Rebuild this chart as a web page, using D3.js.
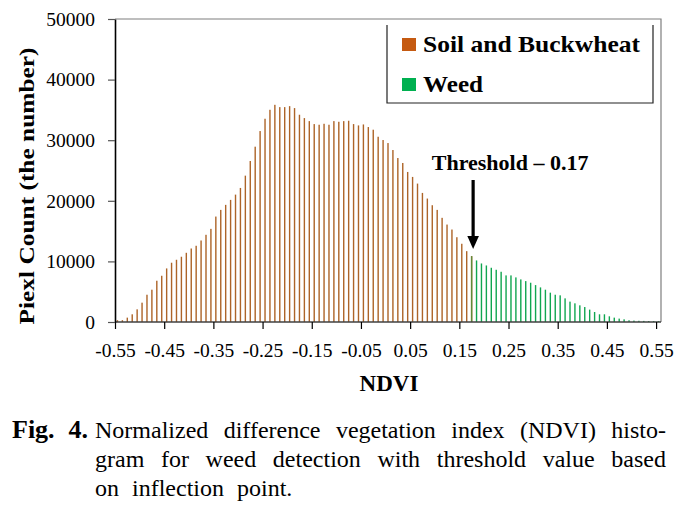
<!DOCTYPE html>
<html>
<head>
<meta charset="utf-8">
<script src="https://cdn.jsdelivr.net/npm/d3@7"></script>
<style>
  html, body { margin: 0; padding: 0; background: #fff; }
  svg { display: block; }
  text { font-family: "Liberation Serif", "Times New Roman", serif; fill: #000; }
</style>
</head>
<body>
<svg id="chart" width="699" height="512"></svg>
<script>
// ---------------- DATA ----------------
const categories = [
  "-0.55","-0.54","-0.53","-0.52","-0.51","-0.50","-0.49","-0.48","-0.47","-0.46",
  "-0.45","-0.44","-0.43","-0.42","-0.41","-0.40","-0.39","-0.38","-0.37","-0.36",
  "-0.35","-0.34","-0.33","-0.32","-0.31","-0.30","-0.29","-0.28","-0.27","-0.26",
  "-0.25","-0.24","-0.23","-0.22","-0.21","-0.20","-0.19","-0.18","-0.17","-0.16",
  "-0.15","-0.14","-0.13","-0.12","-0.11","-0.10","-0.09","-0.08","-0.07","-0.06",
  "-0.05","-0.04","-0.03","-0.02","-0.01","0.00","0.01","0.02","0.03","0.04",
  "0.05","0.06","0.07","0.08","0.09","0.10","0.11","0.12","0.13","0.14",
  "0.15","0.16","0.17","0.18","0.19","0.20","0.21","0.22","0.23","0.24",
  "0.25","0.26","0.27","0.28","0.29","0.30","0.31","0.32","0.33","0.34",
  "0.35","0.36","0.37","0.38","0.39","0.40","0.41","0.42","0.43","0.44",
  "0.45","0.46","0.47","0.48","0.49","0.50","0.51","0.52","0.53","0.54","0.55"
];

// Soil and Buckwheat: -0.55 .. 0.17
const soilValues = [
  300, 300, 720, 1270, 2090, 3190, 4500, 5330, 6810, 7630,
  8840, 9780, 10270, 10770, 11420, 12130, 12580, 13450, 14390, 15370,
  17400, 18500, 19330, 20150, 21020, 22120, 24150, 26570, 28930, 31510,
  33540, 35020, 35840, 35460, 35460, 35620, 35300, 34200, 33650, 33150,
  32660, 32550, 32710, 32550, 33150, 33040, 33150, 33210, 32660, 32440,
  32600, 32170, 31730, 30570, 30030, 29530, 28380, 27060, 26240, 24760,
  23940, 22840, 21300, 20370, 19270, 18500, 17190, 16080, 15260, 13990,
  12910, 11690, 10870
];
const soilStart = "-0.55";

// Weed: 0.17 .. 0.55
const weedValues = [
  10870, 10160, 9660, 9330, 8950, 8620, 8290, 7690, 7690, 7360,
  7030, 6750, 6480, 6090, 5710, 5330, 4840, 4500, 4400, 3900,
  3360, 3080, 2750, 2470, 2040, 1650, 1270, 1270, 940, 720,
  560, 440, 280, 230, 200, 180, 160, 150, 150
];
const weedStart = "0.17";

const xTickLabels = ["-0.55","-0.45","-0.35","-0.25","-0.15","-0.05","0.05","0.15","0.25","0.35","0.45","0.55"];
const yTickValues = [0, 10000, 20000, 30000, 40000, 50000];

const seriesNames = ["Soil and Buckwheat", "Weed"];
const thresholdLabel = "Threshold \u2013 0.17";
const thresholdCategory = "0.17";
const xTitle = "NDVI";
const yTitle = "Piexl Count (the number)";
const captionBold = ["Fig.", "4."];
const captionLines = [
  "Normalized difference vegetation index (NDVI) histo-",
  "gram for weed detection with threshold value based",
  "on inflection point."
];

// ---------------- LAYOUT ----------------
const L = 115, R = 661, T = 19, B = 322;
const step = (R - L) / categories.length;
const svg = d3.select("#chart");

const x = d3.scalePoint().domain(categories).range([L, L + step * (categories.length - 1)]);
const y = d3.scaleLinear().domain([0, 50000]).range([B, T]);

const soilColor = "#ad6428", weedColor = "#10a650", overlapColor = "#5f8a3a";
const legendSoil = "#c55a11", legendWeed = "#00b050";

// plot border (top & right)
svg.append("path")
  .attr("d", `M${L},${T}H${R}V${B}`)
  .attr("fill", "none").attr("stroke", "#7f7f7f").attr("stroke-width", 1.2);

// bars
const soilData = soilValues.map((v, i) => ({ c: categories[categories.indexOf(soilStart) + i], v }));
const weedData = weedValues.map((v, i) => ({ c: categories[categories.indexOf(weedStart) + i], v }));
const soilSet = new Set(soilData.map(d => d.c));
const barW = 1.4;

svg.append("g").selectAll("rect").data(soilData).join("rect")
  .attr("x", d => x(d.c) + step / 2 - barW / 2)
  .attr("y", d => y(d.v))
  .attr("width", barW)
  .attr("height", d => y(0) - y(d.v))
  .attr("fill", soilColor);

svg.append("g").selectAll("rect").data(weedData).join("rect")
  .attr("x", d => x(d.c) + step / 2 - barW / 2)
  .attr("y", d => y(d.v))
  .attr("width", barW)
  .attr("height", d => y(0) - y(d.v))
  .attr("fill", d => soilSet.has(d.c) ? overlapColor : weedColor);

// x axis
const xAxis = d3.axisBottom(x).tickValues(xTickLabels).tickSize(7).tickPadding(14).tickSizeOuter(0);
const gx = svg.append("g").attr("transform", `translate(0,${B})`).call(xAxis);
gx.attr("font-family", null);
gx.select(".domain").attr("d", `M${L},0H${R}`).attr("stroke", "#404040").attr("stroke-width", 1.6);
gx.selectAll(".tick line").attr("stroke", "#000").attr("stroke-width", 1.2);
gx.selectAll(".tick text").attr("font-size", 19.5).style("font-family", "'Liberation Serif', serif").attr("fill", "#000");

// y axis
const yAxis = d3.axisLeft(y).tickValues(yTickValues).tickFormat(d3.format("d")).tickSize(7).tickPadding(13).tickSizeOuter(0);
const gy = svg.append("g").attr("transform", `translate(${L},0)`).call(yAxis);
gy.attr("font-family", null);
gy.select(".domain").attr("stroke", "#000").attr("stroke-width", 1.6);
gy.selectAll(".tick line").attr("stroke", "#555").attr("stroke-width", 1.2);
gy.selectAll(".tick text").attr("font-size", 19.5).style("font-family", "'Liberation Serif', serif").attr("fill", "#000");

// axis titles
svg.append("text").attr("x", (L + R) / 2 + 1).attr("y", 391)
  .attr("text-anchor", "middle").attr("font-weight", "bold").attr("font-size", 23).text(xTitle);
svg.append("text").attr("transform", "translate(33.5,186) rotate(-90)")
  .attr("text-anchor", "middle").attr("font-weight", "bold").attr("font-size", 22)
  .attr("textLength", 277).attr("lengthAdjust", "spacingAndGlyphs").text(yTitle);

// legend
const lg = svg.append("g");
lg.append("path").attr("d", "M387,25V103H653V25").attr("fill", "none").attr("stroke", "#222").attr("stroke-width", 1.2);
const legendLens = [217, 60];
[legendSoil, legendWeed].forEach((col, i) => {
  const yy = 38 + i * 40;
  lg.append("rect").attr("x", 402).attr("y", yy).attr("width", 14).attr("height", 13).attr("fill", col);
  lg.append("text").attr("x", 423).attr("y", yy + 13.5).attr("font-weight", "bold").attr("font-size", 23.5)
    .attr("textLength", legendLens[i]).attr("lengthAdjust", "spacingAndGlyphs")
    .text(seriesNames[i]);
});

// threshold annotation
const tx = x(thresholdCategory) + step / 2 + 1.5;
svg.append("text").attr("x", tx + 37).attr("y", 170).attr("text-anchor", "middle")
  .attr("font-weight", "bold").attr("font-size", 22).text(thresholdLabel);
svg.append("line").attr("x1", tx).attr("x2", tx).attr("y1", 180).attr("y2", 238)
  .attr("stroke", "#000").attr("stroke-width", 3.2);
svg.append("path").attr("d", `M${tx - 5.8},236 L${tx + 5.8},236 L${tx},249 Z`).attr("fill", "#000");

// caption
svg.append("text").attr("x", 12).attr("y", 438).attr("font-weight", "bold").attr("font-size", 26).text(captionBold[0]);
svg.append("text").attr("x", 88).attr("y", 438).attr("text-anchor", "end").attr("font-weight", "bold").attr("font-size", 26).text(captionBold[1]);
function justify(words, x0, x1, yy, just) {
  const g = svg.append("g");
  const nodes = words.map(w => g.append("text").attr("y", yy).attr("font-size", 24).text(w));
  const widths = nodes.map(n => n.node().getComputedTextLength());
  const total = d3.sum(widths);
  const gap = just ? (x1 - x0 - total) / (words.length - 1) : 13;
  let cx = x0;
  nodes.forEach((n, i) => { n.attr("x", cx); cx += widths[i] + gap; });
}
justify(captionLines[0].split(" "), 95, 666, 438, true);
justify(captionLines[1].split(" "), 95, 666, 467, true);
justify(captionLines[2].split(" "), 95, 666, 496, false);
</script>
</body>
</html>
